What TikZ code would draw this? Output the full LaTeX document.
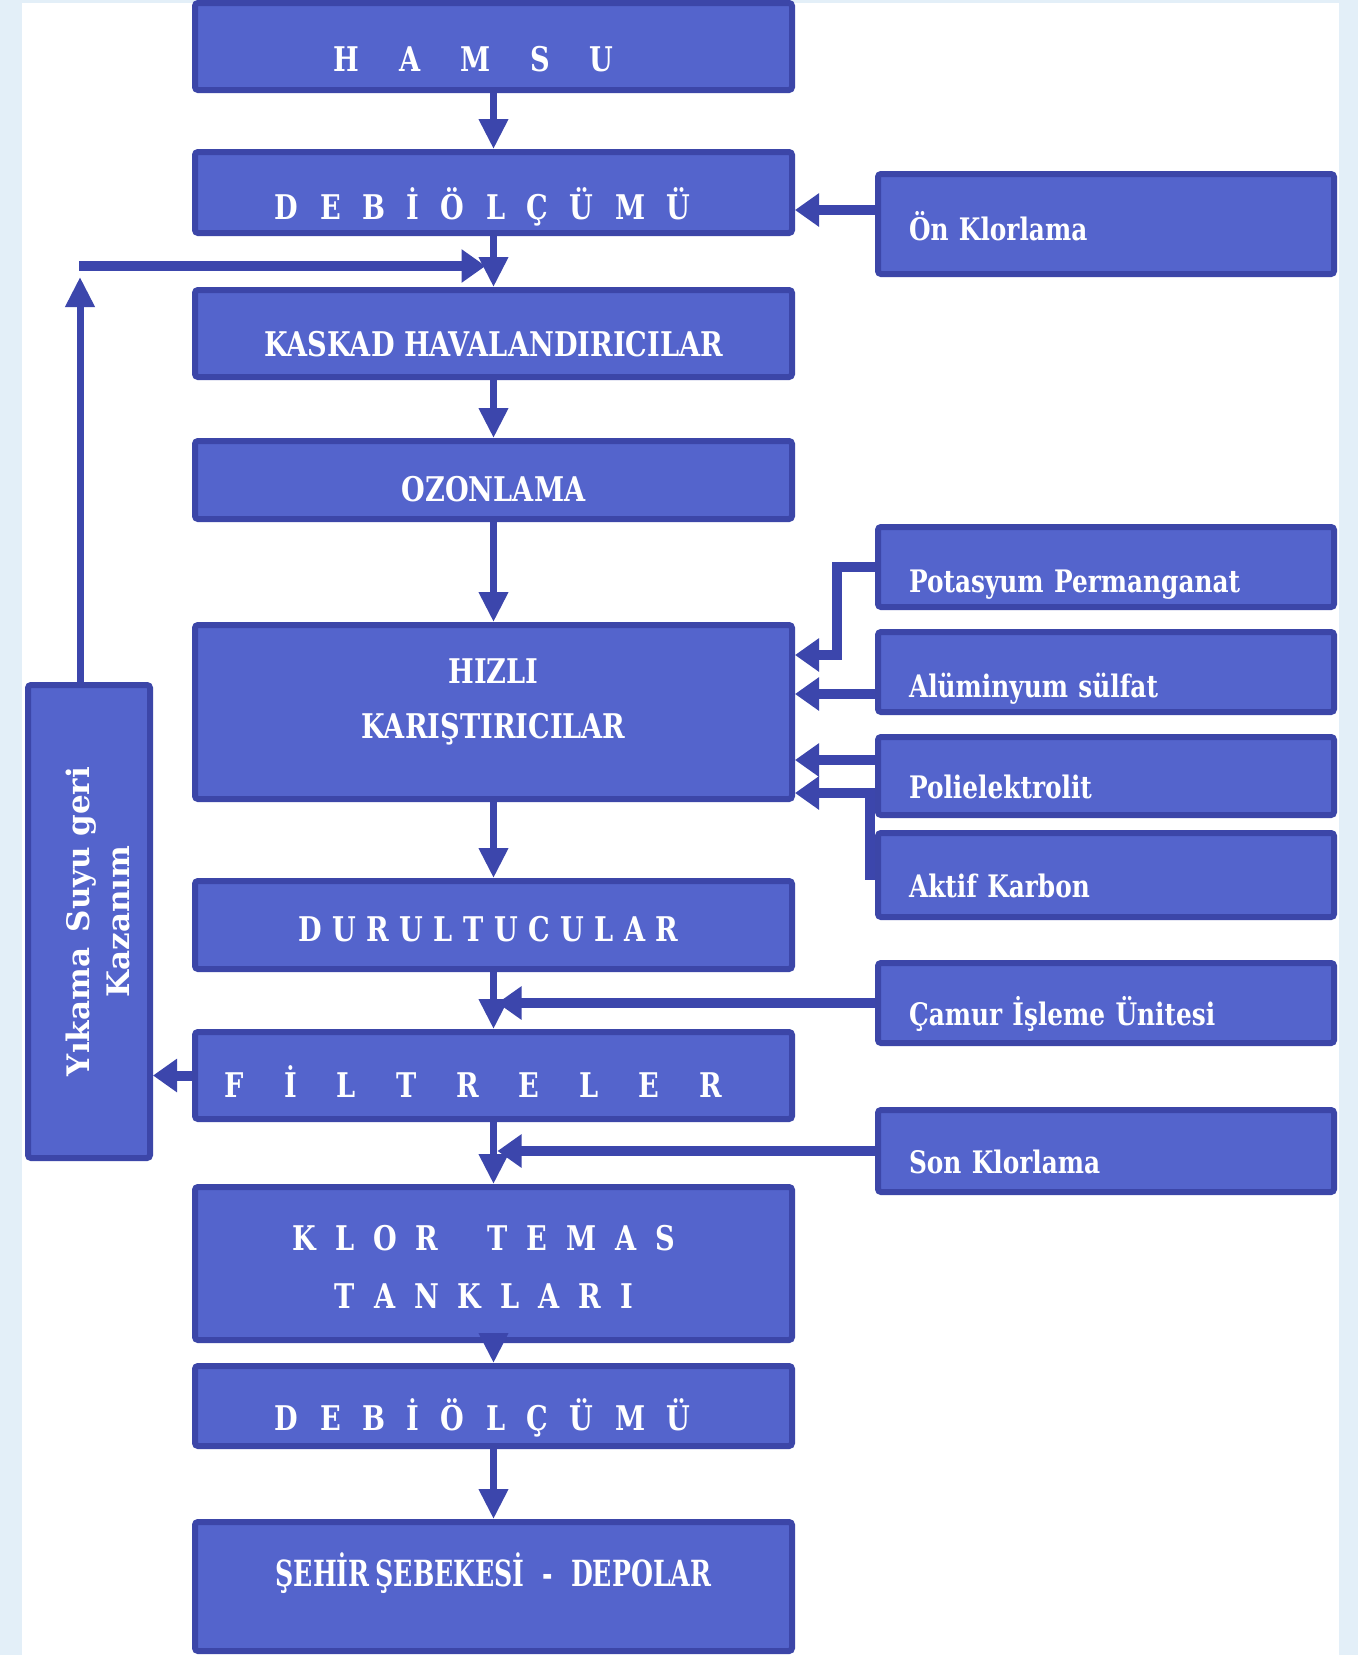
\documentclass[tikz,border=0pt]{standalone}
\usepackage{fontspec}
\usetikzlibrary{arrows.meta,shapes}
\newfontfamily\boxfont{DejaVu Serif}[FakeStretch=0.8]
\newfontfamily\narrowboxfont{DejaVu Serif}[FakeStretch=0.7]
\newfontfamily\wideboxfont{DejaVu Serif}
\definecolor{boxfill}{HTML}{5464CC}
\definecolor{boxline}{HTML}{3C46A8}
\definecolor{flowline}{HTML}{3C46AC}
\definecolor{sidebg}{HTML}{E3EFF8}
% letter spaced titles (a gap after every letter)
\newcommand\spaced[2]{\def\spacedgap{#1}\spacedrest#2\relax}
\def\spacedrest#1{\ifx#1\relax\else#1\kern\spacedgap\relax\expandafter\spacedrest\fi}
\tikzstyle{process}=[rectangle, draw=boxline, fill=boxfill, line width=6pt, rounded corners=3pt, minimum width=597pt, text=white, align=center, font=\boxfont\bfseries\fontsize{34}{55}\selectfont]
\tikzstyle{sidebox}=[rectangle, draw=boxline, fill=boxfill, line width=6pt, rounded corners=3pt, inner xsep=31pt, text width=394pt, align=left, text=white, text depth=0pt, font=\boxfont\bfseries\fontsize{31}{36}\selectfont]
\tikzstyle{edge} = [draw, line width=7pt, flowline, -{Triangle[length=30pt,width=28pt]}]
\tikzstyle{feed} = [draw, line width=10pt, flowline, -{Triangle[length=24pt,width=32pt]}]

\begin{document}
\begin{tikzpicture}[x=1pt, y=-1pt]

    \useasboundingbox (0,0) rectangle (1358,1655);
    \fill[sidebg] (0,0) rectangle (1358,1655);
    \fill[white] (22,3) rectangle (1339,1655);

    % main line
    \foreach \y/\hgt/\lift/\name/\txt in {
        46.5/87/50/hamsu/{\spaced{40pt}{HAMSU}},
        192.5/81/54/debi/{\spaced{21.5pt}{DEBİ ÖLÇÜMÜ}},
        333.5/87/46/kaskad/{KASKAD HAVALANDIRICILAR},
        480/78/42/ozon/{OZONLAMA},
        925/88/32/durul/{\spaced{10.5pt}{DURULTUCULAR}},
        1075.5/87/44/filtre/{\spaced{40pt}{FİLTRELER}},
        1406/80/48/debison/{\spaced{21.5pt}{DEBİ ÖLÇÜMÜ}},
        1586.5/129/0/sehir/{\narrowboxfont\fontsize{36}{40}\selectfont ŞEHİR\,ŞEBEKESİ\enspace-\enspace DEPOLAR}}
        \node[process, minimum height=\hgt pt, text height=\lift pt, text depth=0pt] (\name) at (493.5,\y) {\txt};

    \node[process, minimum height=174pt, text width=560pt, text height=0pt, text depth=58pt] (hizli) at (493.5,712) {HIZLI\\KARIŞTIRICILAR};
    \node[process, minimum height=153pt, text width=560pt, text height=0pt, text depth=27pt,
          font=\boxfont\bfseries\fontsize{34}{58}\selectfont] (klor) at (493.5,1263.5) {\spaced{19pt}{KLOR~TEMAS}\\\spaced{19pt}{TANKLARI}};

    % dosing units
    \foreach \y/\hgt/\lift/\name/\txt in {
        224/100/32/onklor/{Ön Klorlama},
        567/80/50/potas/{Potasyum Permanganat},
        672/80/50/alum/{Alüminyum sülfat},
        776/78/44/poli/{Polielektrolit},
        875/84/44/aktif/{Aktif Karbon},
        1003/80/44/camur/{Çamur İşleme Ünitesi},
        1151/82/44/son/{Son Klorlama}}
        \node[sidebox, minimum height=\hgt pt, text height=\lift pt] (\name) at (1106,\y) {\txt};

    \node[process, rotate=90, minimum width=473pt, minimum height=122pt, text width=440pt, text height=0pt, text depth=0pt,
          font=\wideboxfont\bfseries\fontsize{31}{40}\selectfont] (yik) at (89,921.5) {Yıkama\enspace Suyu geri\\Kazanım};

    \foreach \source/\dest in {hamsu/debi, debi/kaskad, kaskad/ozon, ozon/hizli, hizli/durul, durul/filtre, filtre/klor, klor/debison, debison/sehir}
        \path[edge] (\source.south) -- (\dest.north);

    \path[feed] ([yshift=14pt]onklor.west) -- ([yshift=14pt]onklor.west -| debi.east);
    \path[feed, shorten >=4pt] (camur.west) -- (camur.west -| durul.south);
    \path[feed, shorten >=4pt] (son.west) -- (son.west -| filtre.south);
    \path[feed] (filtre.west) -- (filtre.west -| yik.south);

    \coordinate (kmn) at (837,655);
    \coordinate (akt) at (870,793);
    \path[feed] (potas.west) -| (kmn) -- (kmn -| hizli.east);
    \path[feed] ([yshift=-22pt]alum.west) -- ([yshift=-22pt]alum.west -| hizli.east);
    \path[feed] ([yshift=16pt]poli.west) -- ([yshift=16pt]poli.west -| hizli.east);
    \path[feed] (aktif.west) -| (akt) -- (akt -| hizli.east);

    % washing water back to the inlet
    \coordinate (fbtop) at (80,277);
    \coordinate (fbcorner) at (79,266);
    \path[edge] ([xshift=-9pt]yik.east) -- (fbtop);
    \path[feed, shorten >=8pt] (fbcorner) -- (fbcorner -| debi.south);

\end{tikzpicture}
\end{document}
